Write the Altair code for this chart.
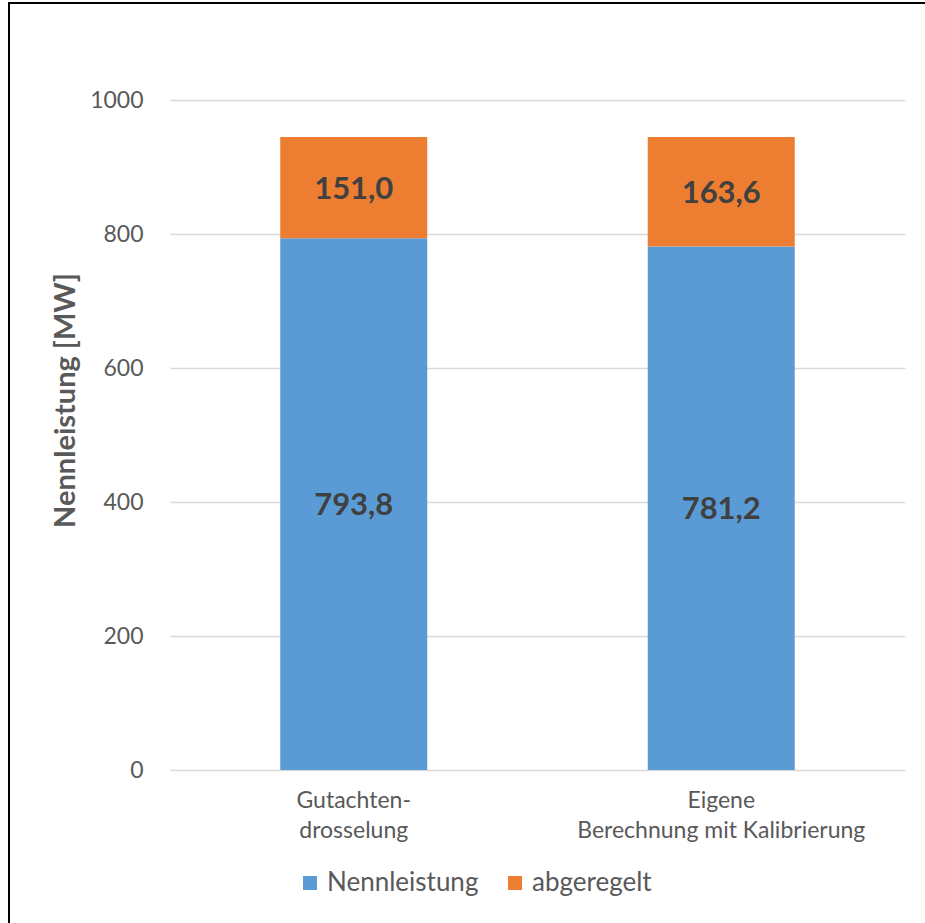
import altair as alt
import pandas as pd

# Chart data
categories = ["Gutachten-\ndrosselung", "Eigene\nBerechnung mit Kalibrierung"]
series = ["Nennleistung", "abgeregelt"]
nennleistung = [793.8, 781.2]
abgeregelt = [151.0, 163.6]
colors = ["#5B9BD5", "#ED7D31"]
y_ticks = [0, 200, 400, 600, 800, 1000]

FONT = "Lato"
GREY = "#595959"

rows = []
for i, cat in enumerate(categories):
    for j, vals in enumerate([nennleistung, abgeregelt]):
        rows.append({
            "kategorie": cat,
            "reihe": series[j],
            "wert": vals[i],
            "ordnung": j,
            "label": f"{vals[i]:.1f}".replace(".", ","),
        })
df = pd.DataFrame(rows)

x_enc = alt.X(
    "kategorie:N",
    sort=categories,
    title=None,
    scale=alt.Scale(paddingInner=0.6, paddingOuter=0.3),
    axis=alt.Axis(
        labelAngle=0,
        labelExpr="split(datum.label, '\\n')",
        labelFont=FONT,
        labelFontSize=23,
        labelColor=GREY,
        labelPadding=19,
        labelLineHeight=30,
        labelLimit=0,
        domain=False,
        ticks=False,
    ),
)

y_scale = alt.Scale(domain=[0, 1000], nice=False)

bars = alt.Chart(df).mark_bar().encode(
    x=x_enc,
    y=alt.Y(
        "wert:Q",
        stack="zero",
        scale=y_scale,
        axis=alt.Axis(
            values=y_ticks,
            format="d",
            title="Nennleistung [MW]",
            grid=True,
            gridColor="#d9d9d9",
            gridWidth=1.5,
            domain=False,
            ticks=False,
            labelFont=FONT,
            labelFontSize=23,
            labelColor=GREY,
            labelPadding=27,
            titleFont=FONT,
            titleFontSize=29,
            titleFontWeight="bold",
            titleColor=GREY,
            titleAngle=270,
            titleX=-105,
            titleY=300,
            titleAlign="center",
            titleBaseline="middle",
        ),
    ),
    color=alt.Color(
        "reihe:N",
        scale=alt.Scale(domain=series, range=colors),
        legend=alt.Legend(
            title=None,
            orient="none",
            direction="horizontal",
            columns=2,
            legendX=127,
            legendY=770,
            symbolType="square",
            symbolSize=196,
            symbolStrokeWidth=0,
            labelFont=FONT,
            labelFontSize=26,
            labelColor=GREY,
            labelOffset=4,
            columnPadding=23,
        ),
    ),
    order=alt.Order("ordnung:Q", sort="ascending"),
)

labels = (
    alt.Chart(df)
    .transform_stack(
        stack="wert",
        groupby=["kategorie"],
        as_=["y0", "y1"],
        sort=[alt.SortField("ordnung", order="ascending")],
    )
    .transform_calculate(ymid="(datum.y0 + datum.y1) / 2")
    .mark_text(font=FONT, fontSize=31, fontWeight="bold", color="#404040", baseline="middle", dy=2)
    .encode(
        x=alt.X("kategorie:N", sort=categories),
        y=alt.Y("ymid:Q", scale=y_scale),
        text="label:N",
    )
)

# Frame around the chart area (left and top edges)
frame = pd.DataFrame({"rand": [0]})
left_edge = alt.Chart(frame).mark_rule(color="black", strokeWidth=2).encode(
    x=alt.value(-161), y=alt.value(-97), y2=alt.value(900), detail="rand:N"
)
top_edge = alt.Chart(frame).mark_rule(color="black", strokeWidth=2).encode(
    x=alt.value(-162), x2=alt.value(800), y=alt.value(-97), detail="rand:N"
)

chart = (
    alt.layer(bars, labels, left_edge, top_edge)
    .properties(
        width=735,
        height=670,
        autosize=alt.AutoSizeParams(type="none"),
        padding={"left": 170, "top": 100, "right": 20, "bottom": 153},
        background="white",
    )
    .configure_view(stroke=None)
)

chart.save("out.html", embed_options={"renderer": "svg", "actions": False})
